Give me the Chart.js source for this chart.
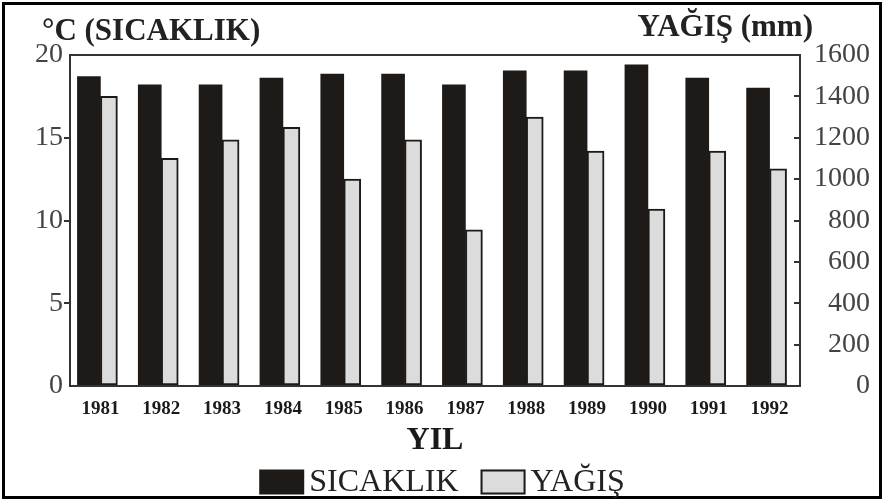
<!DOCTYPE html>
<html>
<head>
<meta charset="utf-8">
<script src="https://cdn.jsdelivr.net/npm/chart.js@4/dist/chart.umd.min.js"></script>
<style>
  html, body { margin: 0; padding: 0; background: #fff; }
  #wrap { position: relative; width: 884px; height: 500px; }
  #frame { position: absolute; left: 2px; top: 2px; width: 880px; height: 497px; box-sizing: border-box; border: 3px solid #000; }
  #c { position: absolute; left: 0; top: 0; }
</style>
</head>
<body>
<div id="wrap">
  <div id="frame"></div>
  <canvas id="c" width="884" height="500"></canvas>
</div>
<script>
const years = ['1981', '1982', '1983', '1984', '1985', '1986', '1987', '1988', '1989', '1990', '1991', '1992'];
const sicaklik = [18.7, 18.2, 18.2, 18.6, 18.85, 18.85, 18.2, 19.05, 19.05, 19.4, 18.6, 18.0];
const yagis = [1400, 1100, 1190, 1250, 1000, 1190, 755, 1300, 1135, 855, 1135, 1050];
const tempTicks = [0, 5, 10, 15, 20];
const rainTicks = [0, 200, 400, 600, 800, 1000, 1200, 1400, 1600];

const SERIF = "'Liberation Serif', 'Times New Roman', serif";
const DARK = '#1e1a17';
const LINE = '#333';

// box around the plot, the two axis headers and the legend row
const frameAndHeaders = {
    id: 'frameAndHeaders',
    afterDraw(chart) {
        const { ctx, chartArea: a } = chart;
        ctx.save();
        ctx.strokeStyle = LINE;
        ctx.lineWidth = 2;
        ctx.strokeRect(a.left, a.top, a.right - a.left, a.bottom - a.top);
        ctx.fillStyle = '#222';
        ctx.font = 'bold 31px ' + SERIF;
        ctx.textBaseline = 'alphabetic';
        ctx.textAlign = 'left';
        ctx.fillText('°C (SICAKLIK)', a.left - 28, 40);
        ctx.textAlign = 'right';
        ctx.fillText('YAĞIŞ (mm)', a.right + 13, 36);

        // legend: box 45x25, 5px to text, 22px between items
        const ds = chart.data.datasets;
        ctx.font = '32px ' + SERIF;
        const boxW = 45, boxH = 25, gap = 5, itemGap = 22;
        const widths = ds.map(d => boxW + gap + ctx.measureText(d.label).width);
        const total = widths.reduce((s, w) => s + w, 0) + itemGap * (ds.length - 1);
        let x = (a.left + a.right) / 2 + 7 - total / 2;
        const cy = chart.height - 18;
        ctx.textAlign = 'left';
        ctx.textBaseline = 'middle';
        ds.forEach((d, i) => {
            ctx.fillStyle = d.backgroundColor;
            ctx.fillRect(x, cy - boxH / 2, boxW, boxH);
            if (d.borderWidth) {
                ctx.strokeStyle = d.borderColor;
                ctx.lineWidth = d.borderWidth;
                ctx.strokeRect(x + 1, cy - boxH / 2 + 1, boxW - 2, boxH - 2);
            }
            ctx.fillStyle = '#222';
            ctx.fillText(d.label, x + boxW + gap, cy + 1);
            x += widths[i] + itemGap;
        });
        ctx.restore();
    }
};

new Chart(document.getElementById('c'), {
    type: 'bar',
    data: {
        labels: years,
        datasets: [
            { label: 'SICAKLIK', data: sicaklik, yAxisID: 'y', backgroundColor: DARK, borderWidth: 0, barThickness: 23 },
            { label: 'YAĞIŞ', data: yagis, yAxisID: 'y1', backgroundColor: '#dcdcdc', borderColor: DARK, borderWidth: 2, borderSkipped: false, barThickness: 17 }
        ]
    },
    options: {
        responsive: false,
        devicePixelRatio: 1,
        animation: false,
        layout: { padding: { top: 55, left: 0, right: 14, bottom: 40 } },
        plugins: {
            tooltip: { enabled: false },
            legend: { display: false }
        },
        scales: {
            x: {
                grid: { display: false, drawTicks: false },
                border: { display: false },
                ticks: { color: '#1a1a1a', font: { family: SERIF, size: 19, weight: 'bold' }, padding: 12, maxRotation: 0, autoSkip: false },
                title: { display: true, text: 'YIL', color: '#1a1a1a', font: { family: SERIF, size: 32, weight: 'bold' }, padding: { top: 0, bottom: 0 } },
                afterFit: s => { s.height = 74; }
            },
            y: {
                position: 'left',
                min: 0, max: 20,
                afterBuildTicks: s => { s.ticks = tempTicks.map(v => ({ value: v })); },
                grid: {
                    drawOnChartArea: false,
                    tickLength: 6,
                    lineWidth: 2,
                    tickColor: c => (c.tick && (c.tick.value === 0 || c.tick.value === 20)) ? 'rgba(0,0,0,0)' : LINE
                },
                border: { display: false },
                ticks: { color: '#444', font: { family: SERIF, size: 28 }, padding: 1 },
                afterFit: s => { s.width = 70; }
            },
            y1: {
                position: 'right',
                min: 0, max: 1600,
                afterBuildTicks: s => { s.ticks = rainTicks.map(v => ({ value: v })); },
                grid: {
                    drawOnChartArea: false,
                    tickLength: -6,
                    lineWidth: 2,
                    tickColor: c => (c.tick && (c.tick.value === 0 || c.tick.value === 1600)) ? 'rgba(0,0,0,0)' : LINE
                },
                border: { display: false },
                ticks: { color: '#444', font: { family: SERIF, size: 28 }, crossAlign: 'far', padding: 0, callback: v => String(v) },
                afterFit: s => { s.width = 70; }
            }
        }
    },
    plugins: [frameAndHeaders]
});
</script>
</body>
</html>
